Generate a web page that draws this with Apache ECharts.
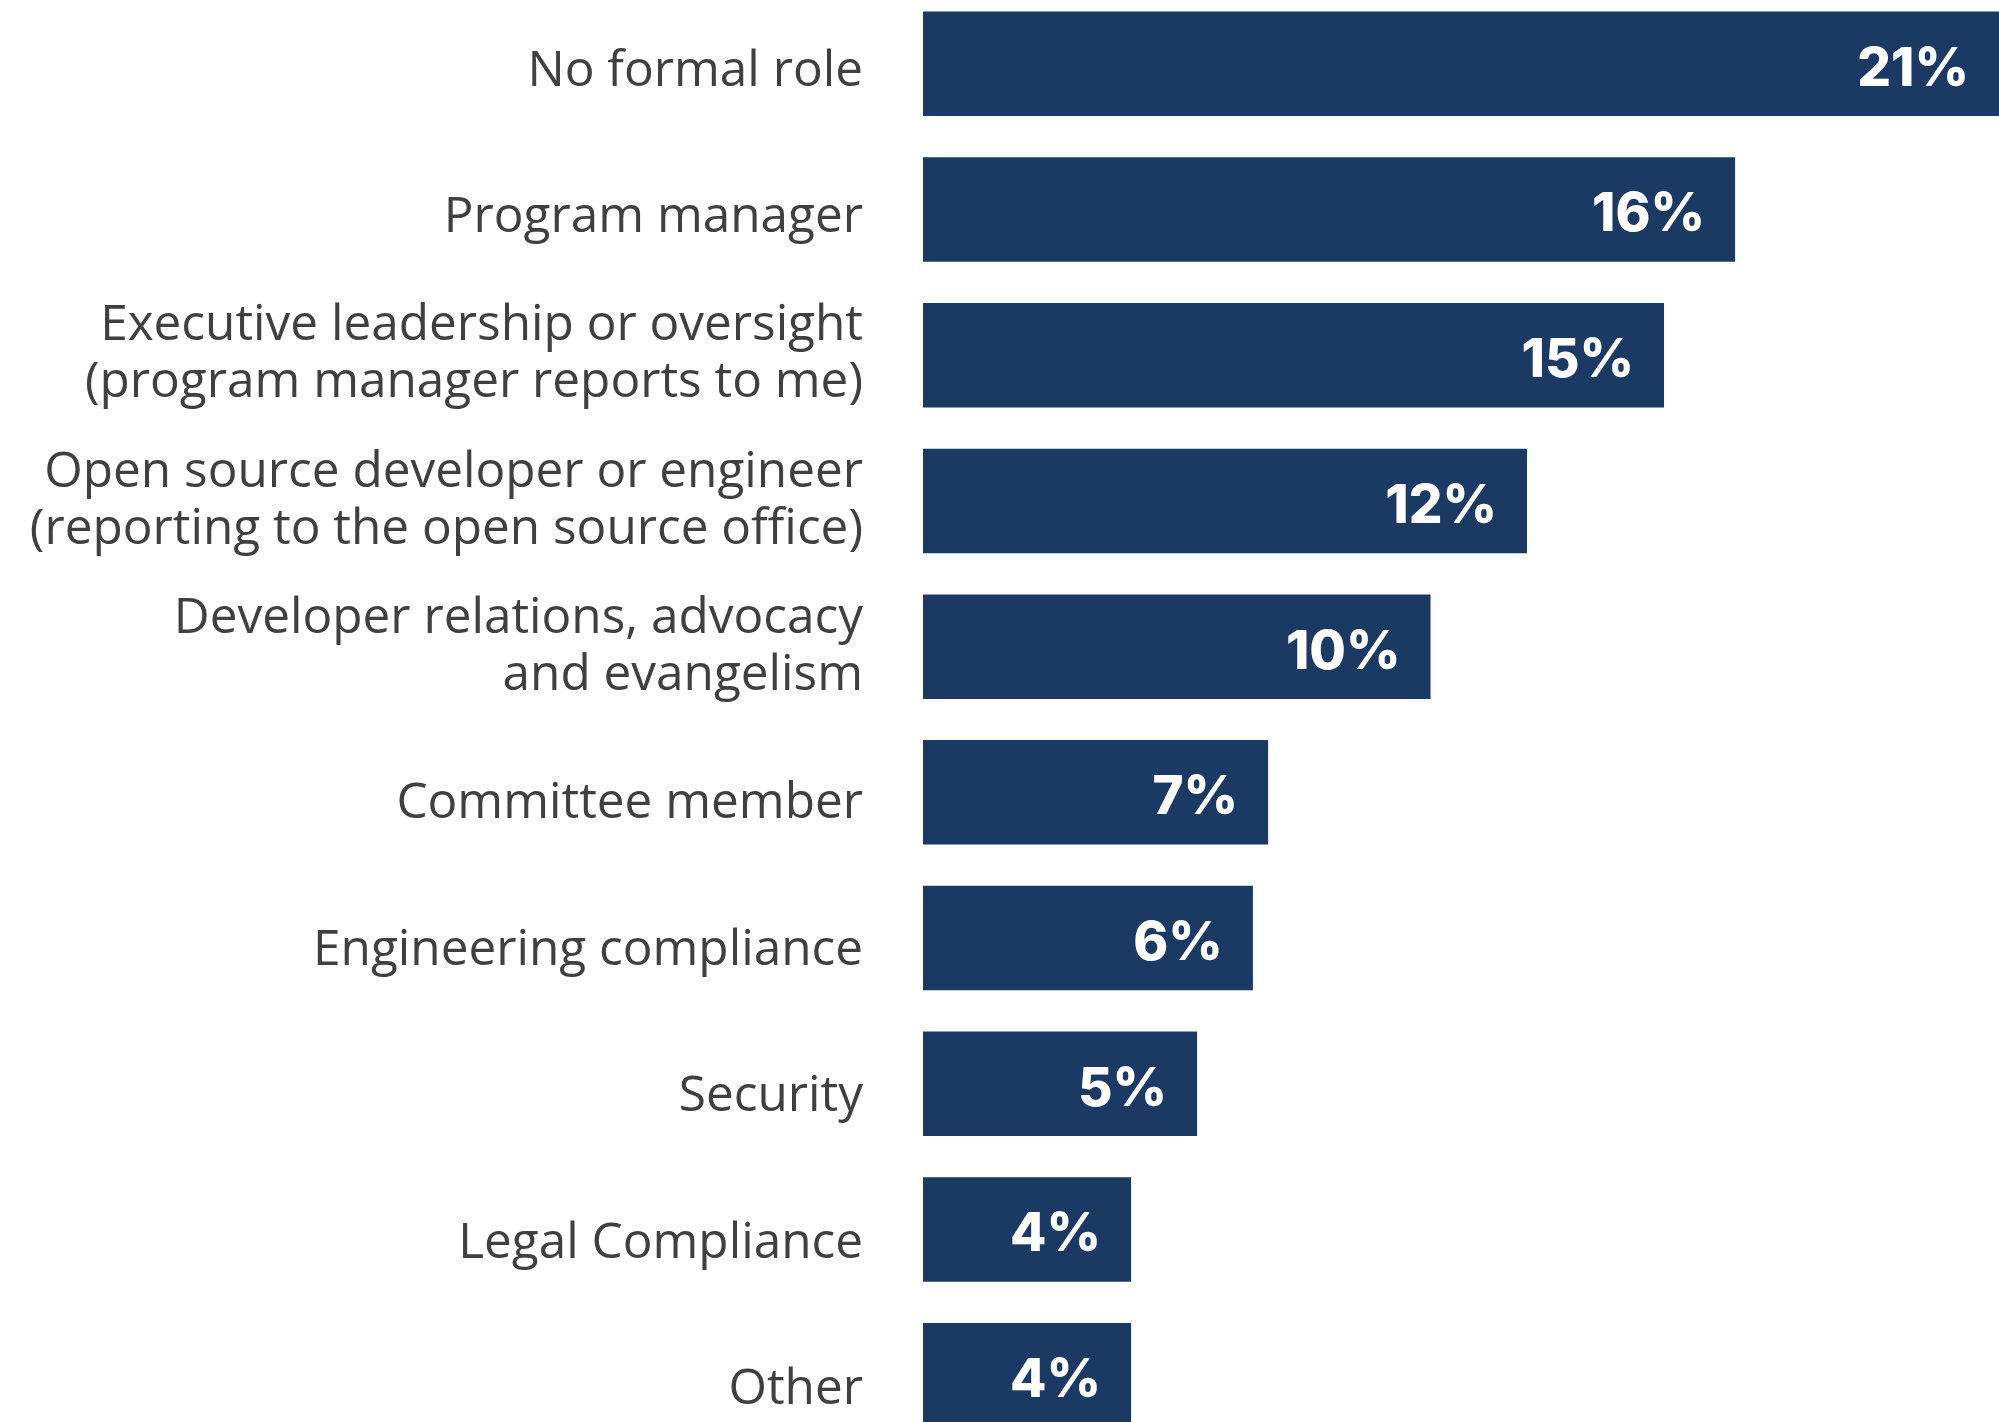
<!DOCTYPE html>
<html>
<head>
<meta charset="utf-8">
<script src="https://cdn.jsdelivr.net/npm/echarts@6/dist/echarts.min.js"></script>
<style>
html,body{margin:0;padding:0;background:#fff;overflow:hidden;width:1999px;height:1422px;}
#chart{position:absolute;left:0;top:-9px;width:1999px;height:1480px;}
</style>
</head>
<body>
<div id="chart"></div>
<script>
const categories = [
  "No formal role",
  "Program manager",
  "Executive leadership or oversight\n(program manager reports to me)",
  "Open source developer or engineer\n(reporting to the open source office)",
  "Developer relations, advocacy\nand evangelism",
  "Committee member",
  "Engineering compliance",
  "Security",
  "Legal Compliance",
  "Other"
];
const values = [21.2, 16.0, 14.6, 11.9, 10.0, 6.8, 6.5, 5.4, 4.1, 4.1];
const valueLabels = ["21%", "16%", "15%", "12%", "10%", "7%", "6%", "5%", "4%", "4%"];

const labelStyle = { color: '#404040', fontFamily: 'Open Sans', fontSize: 49.5, lineHeight: 57 };

const chart = echarts.init(document.getElementById('chart'));
chart.setOption({
  animation: false,
  grid: [
    { left: 923, right: 0, top: 0, height: 1457, containLabel: false },
    { left: 923, right: 0, top: 7.2, height: 1465, containLabel: false }
  ],
  xAxis: [
    { type: 'value', min: 0, max: 21.2, show: false, gridIndex: 0 },
    { type: 'value', min: 0, max: 21.2, show: false, gridIndex: 1 }
  ],
  yAxis: [
    {
      type: 'category', data: categories, inverse: true, gridIndex: 0,
      axisLine: { show: false }, axisTick: { show: false }, splitLine: { show: false },
      axisLabel: { show: false }
    },
    {
      type: 'category', data: categories, inverse: true, gridIndex: 1,
      axisLine: { show: false }, axisTick: { show: false }, splitLine: { show: false },
      axisLabel: {
        margin: 60,
        color: '#404040',
        fontFamily: 'Open Sans',
        fontSize: 49.5,
        lineHeight: 57,
        align: 'right',
        formatter: v => v.indexOf('\n') >= 0
          ? v.split('\n').map(l => '{t|' + l + '}').join('\n') + '\n{s| }'
          : v,
        rich: {
          t: labelStyle,
          s: { fontSize: 4, lineHeight: 20 }
        }
      }
    }
  ],
  series: [{
    type: 'bar',
    xAxisIndex: 0,
    yAxisIndex: 0,
    data: values,
    barWidth: 104.5,
    itemStyle: { color: '#1a3a64' },
    label: {
      show: true,
      position: 'insideRight',
      distance: 30,
      offset: [0, 6],
      color: '#ffffff',
      fontFamily: 'Inter',
      fontWeight: 800,
      fontSize: 53,
      formatter: p => valueLabels[p.dataIndex]
    }
  }]
});
</script>
</body>
</html>
